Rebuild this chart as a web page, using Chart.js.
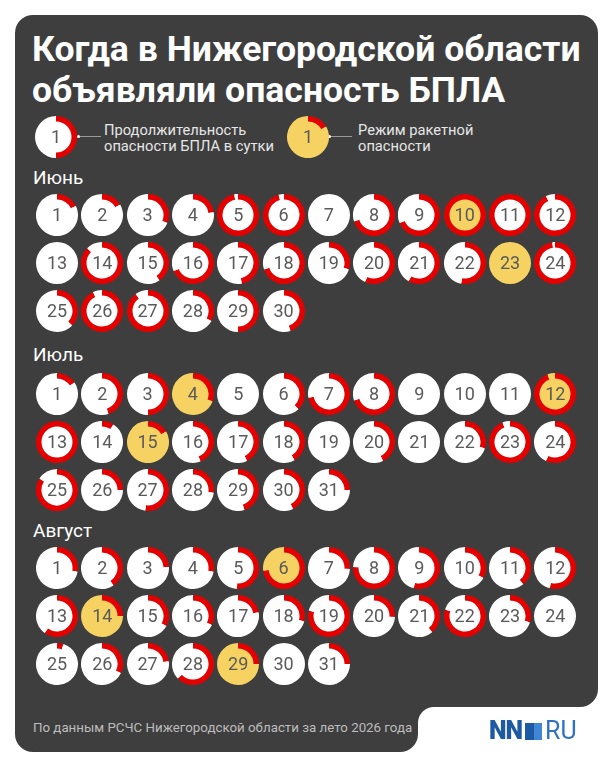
<!DOCTYPE html>
<html><head><meta charset="utf-8">
<script src="https://cdn.jsdelivr.net/npm/chart.js@4/dist/chart.umd.min.js"></script>
<style>
html,body{margin:0;padding:0;background:#fff}
body{width:614px;height:768px;position:relative;overflow:hidden;font-family:Roboto,"Noto Sans",sans-serif}
.abs{position:absolute}
.panel{position:absolute;background:#3e3e3e}
.title{position:absolute;left:32px;color:#fff;font-weight:700;font-size:35.6px;line-height:36px;white-space:nowrap}
.leg{position:absolute;color:#e6e6e6;font-size:14.7px;line-height:16px;white-space:nowrap}
.month{position:absolute;left:33px;color:#fff;font-size:19px;line-height:19px}
.num{position:absolute;width:42px;height:42px;line-height:42px;text-align:center;font-size:18px;color:#5a5a5a;pointer-events:none}
.disk{position:absolute;width:40px;height:40px;border-radius:50%}
canvas.dot{position:absolute}
</style>
</head><body>
<div class="panel" style="left:15px;top:15px;width:583px;height:692px;border-radius:18px"></div>
<div class="panel" style="left:15px;top:650px;width:403px;height:102px;border-radius:0 0 18px 18px"></div>
<div class="abs" style="left:418px;top:707px;width:16px;height:16px;background:radial-gradient(circle at 100% 100%, rgba(62,62,62,0) 15.5px, #3e3e3e 16.5px)"></div>

<div class="title" style="top:31px">Когда в Нижегородской области</div>
<div class="title" style="top:72px">объявляли опасность БПЛА</div>

<div class="abs" style="left:79px;top:136px;width:22px;height:1px;background:#9a9a9a"></div>
<div class="abs" style="left:77px;top:135px;width:3px;height:3px;border-radius:2px;background:#fff"></div>
<div class="leg" style="left:104px;top:122px">Продолжительность<br>опасности БПЛА в сутки</div>
<div class="abs" style="left:330px;top:136px;width:22px;height:1px;background:#9a9a9a"></div>
<div class="abs" style="left:328px;top:135px;width:3px;height:3px;border-radius:2px;background:#fff"></div>
<div class="leg" style="left:358px;top:122px">Режим ракетной<br>опасности</div>

<div id="months"></div>
<div id="dots"></div>

<div class="abs" style="left:33px;top:720px;color:#bdbdbd;font-size:13.3px;line-height:15px;white-space:nowrap">По данным РСЧС Нижегородской области за лето 2026 года</div>
<div class="abs" style="left:489px;top:717px;height:28px;white-space:nowrap;font-size:25px;line-height:28px">
  <span style="color:#1d5aa3;font-weight:900;letter-spacing:-1px">NN</span><span style="display:inline-block;width:17px;height:17px;margin:0 3px 0 3px;vertical-align:-1px;background:linear-gradient(90deg,#1d5aa3 0 50%,#3f86d4 50% 100%)"></span><span style="color:#2f73c2;font-weight:400">RU</span>
</div>

<script>
// ---- data (hours of UAV danger per day, 0-24) ----
const monthNames = ["Июнь", "Июль", "Август"];
const juneHours = [4.3, 4, 7.5, 5.5, 23.3, 23, 0, 16.8, 16.5, 24, 24, 22.3, 0, 21, 9.8, 16.5, 11.3, 16.8, 7.2, 13.7, 14, 12.7, 0, 23.5, 8.9, 22.3, 21.6, 7.9, 12, 10.8];
const julyHours = [3.8, 10.8, 12, 7.4, 0, 9.1, 17.3, 16.8, 0, 0, 0, 22.6, 24, 2.2, 4, 10.6, 10.3, 10, 0, 10.3, 0, 7.2, 22.6, 13.7, 20.2, 6, 12.5, 6.5, 10.8, 10.3, 6];
const augustHours = [6.7, 9.8, 5.8, 6.7, 12.2, 17.5, 6.2, 18.2, 13, 7.9, 9.4, 13, 14.4, 6, 7.9, 7.7, 5.3, 7, 19, 6.2, 9.4, 19.2, 7.2, 0, 1.2, 7.7, 5.5, 15.1, 6, 0, 6];
const juneMissile = [10, 23];
const julyMissile = [4, 12, 15];
const augustMissile = [6, 14, 29];
const legendHours = [12, 4];

// ---- layout ----
const RED = "#e50000", WHITE = "#ffffff", YELLOW = "#f6d262";
const colX0 = 57, colStep = 45.3, rowStep = 48, R = 21;
const monthTops = [215, 394, 568];
const monthLabelTops = [168, 345, 521];

function drawDot(cx, cy, hours, base, label) {
  const host = document.getElementById("dots");
  const d = document.createElement("div");
  d.className = "disk";
  d.style.left = (cx - 20) + "px"; d.style.top = (cy - 20) + "px";
  d.style.background = base;
  host.appendChild(d);
  const c = document.createElement("canvas");
  c.className = "dot";
  c.width = 2 * R; c.height = 2 * R;
  c.style.left = (cx - R) + "px"; c.style.top = (cy - R) + "px";
  host.appendChild(c);
  new Chart(c, {
    type: "doughnut",
    data: {
      datasets: [
        { data: [hours, 24 - hours], backgroundColor: [RED, base], borderWidth: 0, weight: 5.5 },
        { data: [1], backgroundColor: [base], borderWidth: 0, weight: 15.5 }
      ]
    },
    options: {
      responsive: false, animation: false, events: [], cutout: 0,
      devicePixelRatio: 1,
      layout: { padding: 0 },
      plugins: { legend: { display: false }, tooltip: { enabled: false } }
    }
  });
  const n = document.createElement("div");
  n.className = "num";
  n.style.left = (cx - R) + "px"; n.style.top = (cy - R) + "px";
  n.textContent = label;
  host.appendChild(n);
}

const months = [[juneHours, juneMissile], [julyHours, julyMissile], [augustHours, augustMissile]];
months.forEach(([hours, missile], m) => {
  const lab = document.createElement("div");
  lab.className = "month";
  lab.style.top = monthLabelTops[m] + "px";
  lab.textContent = monthNames[m];
  document.getElementById("months").appendChild(lab);
  hours.forEach((h, i) => {
    const col = i % 12, row = Math.floor(i / 12);
    const day = i + 1;
    const base = missile.includes(day) ? YELLOW : WHITE;
    drawDot(colX0 + col * colStep, monthTops[m] + row * rowStep, h, base, String(day));
  });
});

// legend circles
drawDot(56, 137, legendHours[0], WHITE, "1");
drawDot(308, 137, legendHours[1], YELLOW, "1");
</script>
</body></html>
